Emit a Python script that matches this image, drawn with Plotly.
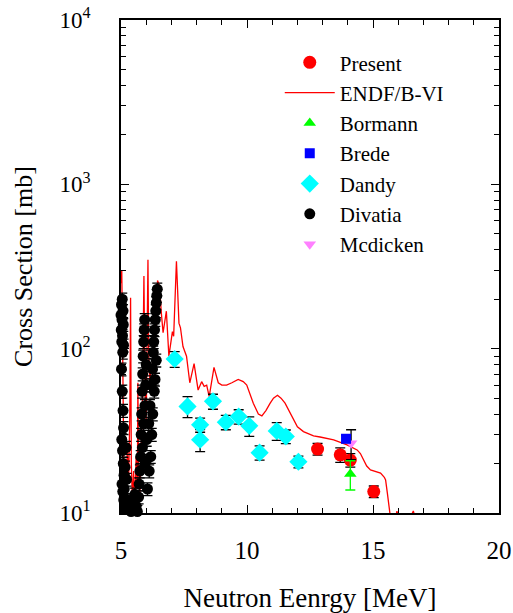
import plotly.graph_objects as go

# ---------------- data ----------------
present_e = [12.8, 13.7, 14.1, 15.03]
present_y = [24.5, 22.6, 21.0, 13.5]
present_err = [2.0, 2.3, 2.0, 1.1]

endf_e = [5.00, 5.03, 5.06, 5.09, 5.12, 5.15, 5.20, 5.25, 5.30, 5.35, 5.38, 5.41, 5.45, 5.50,
          5.55, 5.60, 5.65, 5.67, 5.70, 5.75, 5.80, 5.85, 5.91, 5.95, 6.00, 6.04, 6.07, 6.10,
          6.15, 6.20, 6.24, 6.28, 6.32, 6.36, 6.40, 6.45, 6.50, 6.53, 6.60, 6.67, 6.80, 6.90,
          7.04, 7.09, 7.20, 7.30, 7.36, 7.46, 7.60, 7.73, 7.90, 8.06, 8.20, 8.30, 8.40, 8.50,
          8.69, 8.86, 9.00, 9.19, 9.40, 9.65, 9.85, 9.99, 10.25, 10.45, 10.59, 10.75, 10.92,
          11.05, 11.21, 11.35, 11.51, 11.71, 11.85, 12.00, 12.24, 12.64, 12.90, 13.44, 13.97,
          14.20, 14.37, 14.50, 14.63, 14.75, 14.90, 15.10, 15.30, 15.45, 15.50, 15.57, 15.67,
          15.75, 15.90, 15.95, 16.00, 16.10, 16.50, 16.60, 16.70, 17.00, 20.00]
endf_y = [250, 300, 120, 30, 15, 20, 12, 25, 15, 40, 204, 20, 12, 18,
          11, 22, 15, 62, 18, 13, 25, 45, 277, 60, 35, 120, 347, 90,
          60, 80, 71, 120, 95, 180, 130, 260, 240, 240, 165, 125, 169, 90,
          127, 119, 340, 143, 134, 103, 90, 62, 81, 56, 63, 59, 60, 51,
          77, 62, 60, 60, 62, 65, 63, 60, 46.6, 40, 39, 42, 46.6,
          50, 52, 50, 46.6, 40.5, 36.9, 33.5, 31.3, 29.5, 29, 27.9, 26,
          25, 24.2, 23, 21, 19.3, 18.3, 17.8, 17.5, 16.5, 15.9, 13.2, 9.5,
          8, 9.5, 10.25, 9.5, 8, 9.5, 10.3, 9, 7, 5]

bormann_e = [14.1]
bormann_y = [17.3]
bormann_err = [3.5]

brede_e = [13.93]
brede_y = [28.3]
brede_err = [1.5]

dandy_e = [7.13, 7.64, 8.14, 8.14, 8.65, 9.16, 9.67, 10.09, 10.5, 11.18, 11.54, 12.04]
dandy_y = [86.5, 44.5, 34.4, 27.9, 47.8, 35.7, 38.6, 33.9, 23.3, 31.6, 29.2, 20.5]
dandy_err = [9.5, 6.5, 3.4, 4.3, 5.0, 3.6, 3.9, 4.6, 2.3, 3.9, 2.8, 1.7]

divatia_e = [5.00, 5.01, 5.02, 5.03, 5.04, 5.05, 5.06, 5.07, 5.08, 5.09, 5.10, 5.02, 5.05,
             5.08, 5.10, 5.03, 5.06, 5.09, 5.12, 5.04, 5.07, 5.11, 5.14, 5.18, 5.13, 5.16,
             5.20, 5.22, 5.25, 5.30, 5.35, 5.40, 5.45, 5.50, 5.55, 5.60, 5.65, 5.70, 5.72,
             5.75, 5.78, 5.80, 5.82, 5.84, 5.86, 5.88, 5.90, 5.92, 5.94, 5.85, 5.90, 5.95,
             5.98, 6.00, 5.96, 6.02, 6.10, 6.15, 6.20, 6.25, 6.28, 6.30, 6.33, 6.36, 6.38,
             6.40, 6.42, 6.44, 6.22, 6.26, 6.32, 6.35, 6.40, 6.18, 6.12, 6.05]
divatia_y = [160, 130, 185, 110, 150, 200, 120, 95, 170, 140, 105, 75, 55,
             42, 33, 28, 24, 20, 17, 15, 13.5, 12, 11, 10.5, 14, 19,
             25, 16, 12, 10.5, 11, 10.2, 12, 10.5, 13, 11, 10.2, 12.5, 15,
             18, 22, 30, 40, 55, 70, 90, 110, 130, 150, 25, 35, 45,
             60, 80, 20, 28, 35, 45, 60, 75, 95, 110, 130, 150, 170,
             190, 210, 230, 30, 40, 55, 65, 85, 22, 18, 14]

mcdicken_e = [14.13]
mcdicken_y = [26.6]
mcdicken_err = [5.5]

y_tickvals = [10, 100, 1000, 10000]
y_ticktext = ["10<sup>1</sup>", "10<sup>2</sup>", "10<sup>3</sup>", "10<sup>4</sup>"]
y_minor = [m * 10 ** d for d in range(1, 4) for m in range(2, 10)]

FONT = "Liberation Serif"

def ebar(arr, color="black"):
    return dict(type="data", array=arr, visible=True, color=color, thickness=1.3, width=5)

fig = go.Figure()

fig.add_trace(go.Scatter(x=endf_e, y=endf_y, mode="lines", name="ENDF/B-VI",
                         line=dict(color="#ff0000", width=1.3), legendrank=2))
fig.add_trace(go.Scatter(x=divatia_e, y=divatia_y, mode="markers", name="Divatia",
                         marker=dict(color="black", size=11, symbol="circle"),
                         error_y=dict(type="percent", value=9, visible=True, color="black",
                                      thickness=1.3, width=5),
                         cliponaxis=False, legendrank=6))
fig.add_trace(go.Scatter(x=dandy_e, y=dandy_y, mode="markers", name="Dandy",
                         marker=dict(color="#00ffff", size=14, symbol="diamond"),
                         error_y=ebar(dandy_err), legendrank=5))
fig.add_trace(go.Scatter(x=present_e, y=present_y, mode="markers", name="Present",
                         marker=dict(color="#ff0000", size=13, symbol="circle"),
                         error_y=ebar(present_err), legendrank=1))
fig.add_trace(go.Scatter(x=mcdicken_e, y=mcdicken_y, mode="markers", name="Mcdicken",
                         marker=dict(color="#ff80ff", size=11, symbol="triangle-down"),
                         error_y=ebar(mcdicken_err), legendrank=7))
fig.add_trace(go.Scatter(x=brede_e, y=brede_y, mode="markers", name="Brede",
                         marker=dict(color="#0000ff", size=10, symbol="square"),
                         error_y=ebar(brede_err), legendrank=4))
fig.add_trace(go.Scatter(x=bormann_e, y=bormann_y, mode="markers", name="Bormann",
                         marker=dict(color="#00ff00", size=11, symbol="triangle-up"),
                         error_y=ebar(bormann_err, "#00ff00"), legendrank=3))

fig.update_layout(
    width=513, height=613,
    margin=dict(l=121, r=14, t=20, b=100, autoexpand=False),
    paper_bgcolor="white", plot_bgcolor="white",
    font=dict(family=FONT, size=22, color="black"),
    showlegend=True,
    legend=dict(x=0.42, y=0.955, xanchor="left", yanchor="top",
                bgcolor="rgba(0,0,0,0)", font=dict(family=FONT, size=21),
                tracegroupgap=0, itemsizing="trace", itemwidth=50),
)

fig.update_xaxes(
    range=[5, 20], dtick=5, tick0=5, automargin=False,
    ticks="inside", ticklen=8, tickwidth=1.3, tickcolor="black",
    minor=dict(dtick=1, ticks="inside", ticklen=5, tickwidth=1, tickcolor="black"),
    showline=True, linecolor="black", linewidth=1.5, mirror="ticks",
    showgrid=False, zeroline=False,
    tickfont=dict(family=FONT, size=25), ticklabelstandoff=14,
    title=dict(text="Neutron Eenrgy [MeV]", font=dict(family=FONT, size=27), standoff=28),
)
fig.update_yaxes(
    type="log", range=[1, 4], automargin=False,
    tickvals=y_tickvals, ticktext=y_ticktext,
    ticks="inside", ticklen=8, tickwidth=1.3, tickcolor="black",
    minor=dict(tickvals=y_minor, ticks="inside", ticklen=5, tickwidth=1, tickcolor="black"),
    showline=True, linecolor="black", linewidth=1.5, mirror="ticks",
    showgrid=False, zeroline=False,
    tickfont=dict(family=FONT, size=23), ticklabelstandoff=24,
    title=dict(text="Cross Section [mb]", font=dict(family=FONT, size=26), standoff=20),
)

fig.write_html("out.html", config={"displayModeBar": False},
               post_script="document.body.style.margin='0px';")
